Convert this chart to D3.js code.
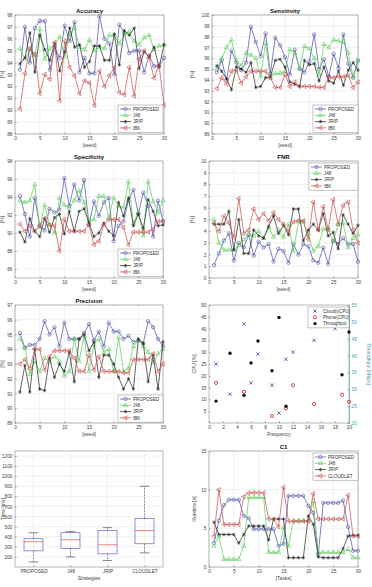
<html>
<head>
<meta charset="utf-8">
<script src="https://d3js.org/d3.v7.min.js"></script>
<style>
  body { margin: 0; background: #fff; }
  svg text { font-family: "Liberation Sans", Arial, sans-serif; fill: #333; }
  .tick text { font-size: 4.8px; fill: #444; }
  .tick line { stroke: #999; }
  .grid line { stroke: #e2e2e2; stroke-width: 0.5; }
  .title { font-size: 6px; font-weight: bold; fill: #111; }
  .lab { font-size: 5px; fill: #444; }
</style>
</head>
<body>
<svg id="fig" width="372" height="587"></svg>
<script>
// ---------- data ----------
const seeds = [1,2,3,4,5,6,7,8,9,10,11,12,13,14,15,16,17,18,19,20,21,22,23,24,25,26,27,28,29,30];
const seriesNames = ['PROPOSED', 'J48', 'JRIP', 'IBK'];

const accProposed = [93.4,97.0,94.0,96.9,97.5,97.5,93.4,95.3,94.4,97.1,95.8,97.4,93.2,94.4,93.1,93.1,97.9,96.0,95.6,93.0,97.2,96.5,94.8,95.0,95.0,93.2,94.6,93.7,93.7,94.4];
const accJ48      = [95.2,94.3,95.1,94.6,96.8,94.3,95.2,95.5,96.2,94.5,96.4,96.9,95.3,95.1,95.9,95.0,95.3,95.2,96.3,96.3,95.6,96.4,96.6,95.8,95.5,96.1,96.3,95.1,95.4,95.5];
const accJrip     = [93.9,94.4,96.5,93.2,96.3,95.1,94.2,95.6,93.3,94.9,96.9,95.3,95.5,93.6,94.1,95.4,95.4,94.2,94.2,96.4,93.8,96.7,96.3,96.9,93.5,94.9,94.5,95.3,93.6,95.5];
const accIbk      = [90.1,93.1,95.2,94.7,91.4,93.0,92.6,95.7,90.8,95.8,93.6,92.9,91.4,92.5,92.3,90.4,93.3,92.0,92.9,93.6,91.5,91.3,93.6,91.2,94.3,95.0,94.4,92.7,93.8,90.4];

const senProposed = [94.7,95.8,94.0,96.7,95.6,94.9,95.6,98.9,97.5,96.2,98.3,94.6,97.9,97.2,96.1,94.5,96.8,95.0,94.7,95.7,98.2,95.0,95.9,94.3,96.4,95.1,98.2,95.5,94.2,95.8];
const senJ48      = [95.0,96.0,97.0,97.7,95.8,95.3,96.5,96.3,96.0,94.3,97.4,94.2,94.6,94.6,94.8,96.8,96.5,95.1,97.1,96.9,96.0,94.5,97.3,97.0,97.7,97.6,97.5,96.5,94.3,95.8];
const senJrip     = [95.3,94.8,94.1,93.1,95.2,95.0,94.7,95.6,93.3,93.4,94.2,94.3,95.8,95.9,95.2,93.8,93.6,93.4,95.8,95.4,95.5,93.9,95.2,93.9,93.7,94.8,93.5,94.9,95.6,94.9];
const senIbk      = [93.2,94.2,93.6,94.8,94.9,93.7,94.3,94.8,94.8,94.8,94.8,94.2,93.3,93.3,94.5,93.4,93.8,93.4,93.4,93.4,93.4,93.3,93.3,94.3,94.2,94.3,94.3,94.4,93.3,93.8];

const speProposed = [94.1,92.1,89.6,93.9,90.8,90.3,92.7,92.3,92.6,96.1,93.0,95.4,93.6,95.9,90.9,93.5,91.9,93.4,93.9,89.1,90.8,91.3,93.6,94.8,92.1,94.5,93.0,89.6,93.6,91.3];
const speJ48      = [93.6,93.4,93.6,95.4,90.6,93.1,90.9,90.0,93.9,93.1,92.8,93.6,94.7,93.4,91.4,91.5,94.1,94.1,91.7,93.9,93.0,92.8,95.7,91.1,92.3,89.7,95.7,93.5,92.3,93.6];
const speJrip     = [90.1,89.0,91.6,90.2,89.6,91.6,90.1,91.7,92.1,89.9,92.4,90.2,92.4,92.7,91.1,89.6,90.0,91.1,90.2,89.7,93.4,91.9,93.9,90.8,92.1,90.5,93.7,92.4,90.8,90.9];
const speIbk      = [91.0,90.2,90.8,90.2,90.8,91.6,90.9,90.8,88.0,91.5,90.2,90.2,90.2,90.2,90.9,88.7,89.1,90.9,91.5,91.5,91.5,90.6,88.7,90.1,90.1,90.1,90.1,90.4,91.3,91.3];

const fnrProposed = [1.1,2.1,3.2,3.8,1.5,3.0,2.6,3.7,1.9,3.1,2.6,2.9,1.4,2.5,2.3,1.3,2.9,2.0,2.9,2.7,1.5,1.3,2.6,1.2,3.2,2.9,3.4,2.9,2.9,1.4];
const fnrJ48      = [5.0,3.0,2.4,2.4,2.4,2.8,3.3,3.7,3.6,4.0,3.4,4.3,3.5,4.1,3.5,4.6,2.3,4.8,4.8,3.7,2.3,2.7,4.2,4.2,3.1,4.6,4.7,2.6,3.4,3.7];
const fnrJrip     = [4.6,4.6,4.6,5.7,2.4,5.0,2.1,2.1,4.1,3.6,3.4,4.4,5.3,3.8,4.5,3.7,5.9,5.9,3.2,4.1,4.6,4.1,5.5,3.6,3.9,2.5,5.4,4.6,3.8,4.5];
const fnrIbk      = [4.7,4.0,5.3,4.7,3.5,6.8,3.8,4.1,5.9,5.0,5.5,4.9,5.6,5.0,4.6,4.0,4.8,4.9,4.9,3.3,6.5,4.1,6.1,4.1,6.7,4.6,6.2,6.5,4.1,3.0];

const preProposed = [95.1,94.1,94.3,94.3,94.7,95.9,95.0,95.5,94.2,95.8,94.7,94.7,94.7,95.1,95.7,94.6,95.2,94.2,95.8,95.2,95.2,94.7,94.9,94.5,94.6,94.4,95.9,95.5,94.7,94.2];
const preJ48      = [94.7,94.1,92.3,93.2,92.5,93.4,93.2,93.5,93.2,92.2,92.5,94.7,93.2,94.9,92.5,94.3,94.7,93.8,94.0,92.5,94.8,92.5,92.7,94.2,94.6,94.2,93.8,93.1,93.7,94.0];
const preJrip     = [91.1,92.9,91.1,94.0,91.3,91.2,93.4,92.1,93.0,92.5,93.8,91.8,94.7,95.0,93.9,94.5,92.1,93.6,93.6,93.0,92.1,91.3,92.0,91.3,94.7,94.4,91.8,93.6,91.3,94.5];
const preIbk      = [93.0,93.3,92.7,94.0,94.0,92.6,93.5,93.9,93.9,93.9,93.9,93.4,92.5,92.5,93.6,92.6,93.5,92.5,92.5,92.5,92.5,92.4,92.4,93.3,93.3,93.3,93.3,93.7,92.5,93.0];

// scatter
const cloudFreq = [1,3,5,6,7,9,10,11,12,15,18];
const cloudCpu  = [25,12.2,42,17,29.2,16,4.2,27,30,35,40];
const phoneFreq = [1,5,9,11,12,15,19,20];
const phoneCpu  = [17,13.2,3,6.2,16,8,12,9];
const thrFreq   = [1,3,5,6,7,9,10,11,19,20];
const thrMbps   = [26.5,40.7,28.2,37.8,44.3,35.5,51.3,25.0,34.3,47.0];

// boxplot
const strategies = ['PROPOSED', 'J48', 'JRIP', 'CLOUDLET'];
const boxLow  = [150, 200, 165, 240];
const boxQ1   = [260, 285, 230, 330];
const boxMed  = [350, 370, 320, 460];
const boxQ3   = [380, 440, 460, 580];
const boxHigh = [440, 450, 490, 900];
const boxOutliers = [[], [750, 800, 850, 900], [1100, 1150, 1200], []];

// C1
const tasks = seeds;
const c1Names = ['PROPOSED', 'J48', 'JRIP', 'CLOUDLET'];
const c1Proposed = [3.1,6.0,8.0,8.7,8.7,8.7,6.6,6.3,4.9,4.9,4.9,4.9,4.9,2.7,3.0,9.2,9.2,9.2,9.2,7.9,7.0,1.6,8.3,8.3,8.3,8.3,8.6,5.2,2.1,2.1];
const c1J48      = [2.7,4.0,1.0,1.0,1.0,1.0,2.7,9.0,9.0,9.0,9.0,1.9,1.9,1.9,5.1,2.7,6.0,6.0,6.0,6.0,8.5,1.9,1.9,1.9,1.9,1.9,1.9,2.3,1.2,1.2];
const c1Jrip     = [5.8,4.2,4.2,4.2,4.2,3.1,4.2,5.3,5.3,5.3,5.3,3.5,6.2,6.2,6.2,1.2,1.2,1.2,1.2,6.6,5.5,1.3,1.2,1.2,1.2,1.2,2.4,4.0,4.1,4.1];
const c1Cloudlet = [4.0,10.0,5.5,5.5,5.5,5.5,9.1,9.6,9.6,9.6,9.6,6.2,6.2,5.2,10.3,5.9,5.9,5.9,5.9,5.9,9.5,6.2,6.2,6.2,6.2,6.2,6.2,9.3,4.0,4.0];

// ---------- styles ----------
const colors = ['#4b4ba6', '#55cc55', '#222222', '#c84a4a'];
const markers = ['circle', 'triangle', 'star', 'tleft'];

const svg = d3.select('#fig');

function markerPath(kind) {
  if (kind === 'circle') return d3.symbol(d3.symbolCircle, 9)();
  if (kind === 'triangle') return d3.symbol(d3.symbolTriangle, 8)();
  if (kind === 'star') return d3.symbol(d3.symbolAsterisk, 9)();
  return d3.symbol(d3.symbolTriangle, 8)();
}
function markerRot(kind) { return kind === 'tleft' ? ' rotate(-90)' : ''; }

function frame(b, x, y, xTicks, yTicks, opts = {}) {
  const g = svg.append('g');
  const grid = g.append('g').attr('class', 'grid');
  grid.selectAll('line.v').data(xTicks).join('line')
    .attr('x1', d => x(d)).attr('x2', d => x(d)).attr('y1', b.top).attr('y2', b.bottom);
  grid.selectAll('line.h').data(yTicks).join('line')
    .attr('x1', b.left).attr('x2', b.right).attr('y1', d => y(d)).attr('y2', d => y(d));
  g.append('rect').attr('x', b.left).attr('y', b.top)
    .attr('width', b.right - b.left).attr('height', b.bottom - b.top)
    .attr('fill', 'none').attr('stroke', '#8a8a8a').attr('stroke-width', 0.6);
  // ticks point inwards, MATLAB style
  const xa = g.append('g').attr('transform', `translate(0,${b.bottom})`)
    .call(d3.axisBottom(x).tickValues(xTicks).tickSize(-1.5).tickPadding(2.5).tickFormat(opts.xFmt || d3.format('d')));
  xa.select('.domain').remove();
  const ya = g.append('g').attr('transform', `translate(${b.left},0)`)
    .call(d3.axisLeft(y).tickValues(yTicks).tickSize(-1.5).tickPadding(2.5).tickFormat(d3.format('d')));
  ya.select('.domain').remove();
  if (opts.title) {
    g.append('text').attr('class', 'title').attr('text-anchor', 'middle')
      .attr('x', (b.left + b.right) / 2).attr('y', b.top - 2.5).text(opts.title);
  }
  if (opts.xLabel) {
    g.append('text').attr('class', 'lab').attr('text-anchor', 'middle')
      .attr('x', (b.left + b.right) / 2).attr('y', b.bottom + 12.5).text(opts.xLabel);
  }
  if (opts.yLabel) {
    g.append('text').attr('class', 'lab').attr('text-anchor', 'middle')
      .attr('transform', `translate(${opts.yLabelX},${(b.top + b.bottom) / 2}) rotate(-90)`)
      .text(opts.yLabel);
  }
  return g;
}

function legend(g, lx, ly, w, names, styles) {
  const rowH = 6.3;
  g.append('rect').attr('x', lx).attr('y', ly).attr('width', w).attr('height', names.length * rowH + 2)
    .attr('fill', '#fff').attr('stroke', '#8a8a8a').attr('stroke-width', 0.5);
  names.forEach((n, i) => {
    const cy = ly + 4 + i * rowH;
    styles[i](g, lx, cy);
    g.append('text').attr('x', lx + 15).attr('y', cy + 1.7).attr('font-size', 4.6).attr('fill', '#333').text(n);
  });
}

function lineStyle(i) {
  return (g, lx, cy) => {
    g.append('line').attr('x1', lx + 2).attr('x2', lx + 13).attr('y1', cy).attr('y2', cy)
      .attr('stroke', colors[i]).attr('stroke-width', 0.7);
    g.append('path').attr('d', markerPath(markers[i]))
      .attr('transform', `translate(${lx + 7.5},${cy})${markerRot(markers[i])}`)
      .attr('fill', markers[i] === 'star' ? colors[i] : 'none')
      .attr('stroke', colors[i]).attr('stroke-width', 0.6);
  };
}

function linePanel(cfg) {
  const b = cfg.box;
  const x = d3.scaleLinear().domain([0, 30]).range([b.left, b.right]);
  const y = d3.scaleLinear().domain(cfg.yDomain).range([b.bottom, b.top]);
  const g = frame(b, x, y, [0, 5, 10, 15, 20, 25, 30], cfg.yTicks,
    { title: cfg.title, xLabel: cfg.xLabel, yLabel: cfg.yLabel, yLabelX: cfg.yLabelX });
  const line = d3.line().x((d, i) => x(cfg.xs[i])).y(d => y(d));
  cfg.series.forEach((vals, i) => {
    g.append('path').attr('d', line(vals)).attr('fill', 'none')
      .attr('stroke', colors[i]).attr('stroke-width', 0.7);
    g.selectAll(null).data(vals).join('path')
      .attr('d', markerPath(markers[i]))
      .attr('transform', (d, j) => `translate(${x(cfg.xs[j])},${y(d)})${markerRot(markers[i])}`)
      .attr('fill', markers[i] === 'star' ? colors[i] : 'none')
      .attr('stroke', colors[i]).attr('stroke-width', 0.6);
  });
  const L = cfg.legend;
  legend(g, L[0], L[1], L[2], cfg.names, cfg.names.map((n, i) => lineStyle(i)));
}

// ---------- panels ----------
linePanel({ box: { left: 15, right: 164, top: 15, bottom: 134 }, title: 'Accuracy',
  yDomain: [88, 98], yTicks: d3.range(88, 99, 1), xs: seeds, xLabel: '[seed]', yLabel: '[%]', yLabelX: 4,
  series: [accProposed, accJ48, accJrip, accIbk], names: seriesNames, legend: [118, 105, 45] });

linePanel({ box: { left: 212, right: 358, top: 15, bottom: 134 }, title: 'Sensitivity',
  yDomain: [89, 100], yTicks: d3.range(89, 101, 1), xs: seeds, xLabel: '[seed]', yLabel: '[%]', yLabelX: 194,
  series: [senProposed, senJ48, senJrip, senIbk], names: seriesNames, legend: [313, 105, 45] });

linePanel({ box: { left: 15, right: 163, top: 161, bottom: 278 }, title: 'Specificity',
  yDomain: [85, 98], yTicks: [86, 88, 90, 92, 94, 96, 98], xs: seeds, xLabel: '[seed]', yLabel: '[%]', yLabelX: 4,
  series: [speProposed, speJ48, speJrip, speIbk], names: seriesNames, legend: [118, 249, 45] });

linePanel({ box: { left: 209, right: 358, top: 161, bottom: 278 }, title: 'FNR',
  yDomain: [0, 10], yTicks: d3.range(0, 11, 1), xs: seeds, xLabel: '[seed]', yLabel: '[%]', yLabelX: 194,
  series: [fnrProposed, fnrJ48, fnrJrip, fnrIbk], names: seriesNames, legend: [309, 163, 49] });

linePanel({ box: { left: 15, right: 163, top: 305, bottom: 423 }, title: 'Precision',
  yDomain: [89, 97], yTicks: d3.range(89, 98, 1), xs: seeds, xLabel: '[seed]', yLabel: '[%]', yLabelX: 4,
  series: [preProposed, preJ48, preJrip, preIbk], names: seriesNames, legend: [118, 395, 45] });

linePanel({ box: { left: 209, right: 358, top: 451, bottom: 567 }, title: 'C1',
  yDomain: [0, 15], yTicks: [0, 5, 10, 15], xs: tasks, xLabel: '[Tasks]', yLabel: 'Runtime [s]', yLabelX: 196,
  series: [c1Proposed, c1J48, c1Jrip, c1Cloudlet], names: c1Names, legend: [313, 453, 45] });

// ---------- scatter ----------
(function () {
  const b = { left: 209, right: 349, top: 305, bottom: 423 };
  const x = d3.scaleLinear().domain([0, 20]).range([b.left, b.right]);
  const y = d3.scaleLinear().domain([0, 50]).range([b.bottom, b.top]);
  const y2 = d3.scaleLinear().domain([20, 55]).range([b.bottom, b.top]);
  const g = frame(b, x, y, d3.range(0, 21, 2), d3.range(5, 51, 5),
    { xLabel: 'Frequency', yLabel: 'CPU [%]', yLabelX: 196 });
  g.select('.grid').remove();
  const teal = '#4aa0b4';
  const ra = g.append('g').attr('transform', `translate(${b.right},0)`)
    .call(d3.axisRight(y2).tickValues(d3.range(20, 56, 5)).tickSize(-1.5).tickPadding(2.5));
  ra.select('.domain').attr('stroke', teal).attr('stroke-width', 0.6);
  ra.selectAll('.tick line').attr('stroke', teal);
  ra.selectAll('.tick text').style('fill', teal);
  g.append('text').attr('class', 'lab').style('fill', teal).attr('text-anchor', 'middle')
    .attr('transform', `translate(${367},${(b.top + b.bottom) / 2}) rotate(90)`).text('Throughput [Mbps]');

  const cross = d3.symbol(d3.symbolTimes, 9)();
  g.selectAll(null).data(cloudCpu).join('path').attr('d', cross)
    .attr('transform', (d, i) => `translate(${x(cloudFreq[i])},${y(d)})`)
    .attr('fill', 'none').attr('stroke', '#4040a8').attr('stroke-width', 0.8);
  g.selectAll(null).data(phoneCpu).join('circle')
    .attr('cx', (d, i) => x(phoneFreq[i])).attr('cy', d => y(d)).attr('r', 1.6)
    .attr('fill', 'none').attr('stroke', '#cc3333').attr('stroke-width', 0.9);
  g.selectAll(null).data(thrMbps).join('circle')
    .attr('cx', (d, i) => x(thrFreq[i])).attr('cy', d => y2(d)).attr('r', 1.7)
    .attr('fill', '#111');

  legend(g, 308, 307, 41, ['Cloud(vCPU)', 'Phone(CPU)', 'Throughput'], [
    (gg, lx, cy) => gg.append('path').attr('d', cross).attr('transform', `translate(${lx + 7},${cy})`)
      .attr('fill', 'none').attr('stroke', '#4040a8').attr('stroke-width', 0.8),
    (gg, lx, cy) => gg.append('circle').attr('cx', lx + 7).attr('cy', cy).attr('r', 1.6)
      .attr('fill', 'none').attr('stroke', '#cc3333').attr('stroke-width', 0.9),
    (gg, lx, cy) => gg.append('circle').attr('cx', lx + 7).attr('cy', cy).attr('r', 1.7).attr('fill', '#111')
  ]);
})();

// ---------- boxplot ----------
(function () {
  const b = { left: 15, right: 163, top: 451, bottom: 567 };
  const x = d3.scaleLinear().domain([0.5, 4.5]).range([b.left, b.right]);
  const y = d3.scaleLinear().domain([100, 1250]).range([b.bottom, b.top]);
  const xIdx = [1, 2, 3, 4];
  const g = frame(b, x, y, xIdx, d3.range(200, 1201, 100),
    { xLabel: 'Strategies', yLabel: 'Time [ms]', yLabelX: 4.8, xFmt: d => strategies[d - 1] });
  const hw = 9.5;
  xIdx.forEach((p, i) => {
    const cx = x(p);
    g.append('line').attr('x1', cx).attr('x2', cx).attr('y1', y(boxQ3[i])).attr('y2', y(boxHigh[i]))
      .attr('stroke', '#333').attr('stroke-width', 0.5).attr('stroke-dasharray', '2,1.2');
    g.append('line').attr('x1', cx).attr('x2', cx).attr('y1', y(boxQ1[i])).attr('y2', y(boxLow[i]))
      .attr('stroke', '#333').attr('stroke-width', 0.5).attr('stroke-dasharray', '2,1.2');
    [boxHigh[i], boxLow[i]].forEach(v => g.append('line')
      .attr('x1', cx - hw / 2).attr('x2', cx + hw / 2).attr('y1', y(v)).attr('y2', y(v))
      .attr('stroke', '#333').attr('stroke-width', 0.6));
    g.append('rect').attr('x', cx - hw).attr('width', 2 * hw)
      .attr('y', y(boxQ3[i])).attr('height', y(boxQ1[i]) - y(boxQ3[i]))
      .attr('fill', 'none').attr('stroke', '#4a4ac8').attr('stroke-width', 0.6);
    g.append('line').attr('x1', cx - hw).attr('x2', cx + hw).attr('y1', y(boxMed[i])).attr('y2', y(boxMed[i]))
      .attr('stroke', '#d03030').attr('stroke-width', 0.6);
    g.selectAll(null).data(boxOutliers[i]).join('path')
      .attr('d', d3.symbol(d3.symbolPlus, 8)())
      .attr('transform', d => `translate(${cx},${y(d)})`)
      .attr('fill', '#d03030');
  });
})();
</script>
</body>
</html>
